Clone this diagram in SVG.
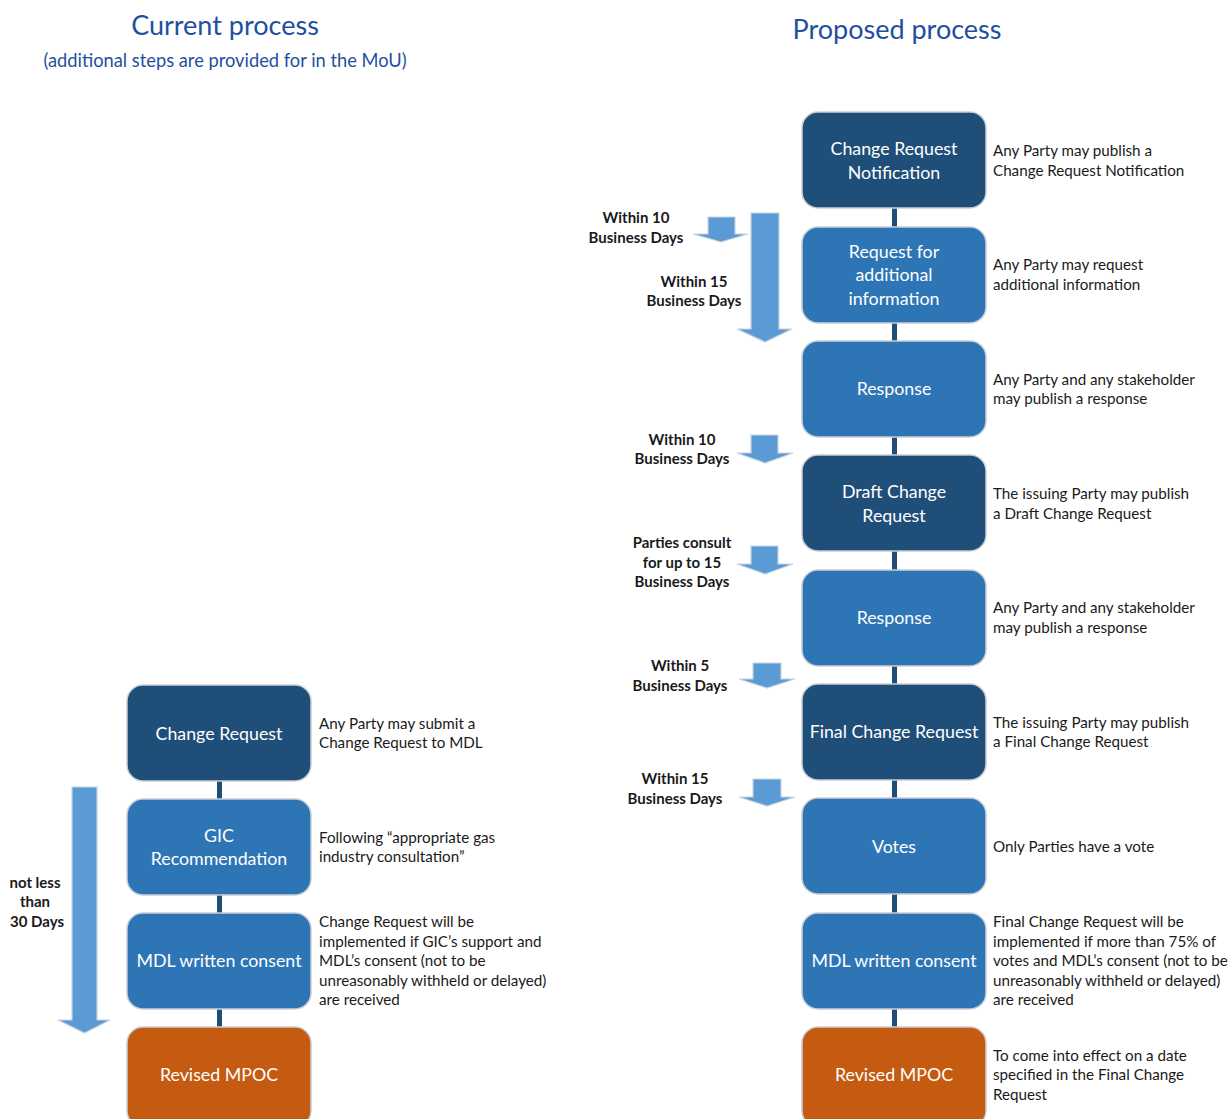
<svg xmlns="http://www.w3.org/2000/svg" width="1231" height="1119" viewBox="0 0 1231 1119">
<style>
.title{font-family:Lato,"Liberation Sans",sans-serif;font-size:27px;fill:#1F4FA0;text-anchor:middle}
.sub{font-family:Lato,"Liberation Sans",sans-serif;font-size:18.3px;fill:#1F4FA0;text-anchor:middle}
.box{stroke:#C9CED6;stroke-width:1.5}
.dark{fill:#1F4E79}
.mid{fill:#2E75B6}
.orange{fill:#C55A11}
.bt{font-family:Lato,"Liberation Sans",sans-serif;font-size:17.8px;fill:#FFFFFF;text-anchor:middle}
.st{font-family:Lato,"Liberation Sans",sans-serif;font-size:15.2px;fill:#1a1a1a}
.lb{font-family:Lato,"Liberation Sans",sans-serif;font-size:15px;font-weight:bold;fill:#1a1a1a;text-anchor:middle}
.conn{fill:#1F4E79}
.arr{fill:#5B9BD5;stroke:#C9D3DF;stroke-width:1.2}
</style>

<text class="title" x="225" y="35">Current process</text>
<text class="sub" x="225" y="67">(additional steps are provided for in the MoU)</text>
<text class="title" x="897" y="39">Proposed process</text>

<g id="connectors">
  <rect class="conn" x="892" y="208" width="5" height="19"/>
  <rect class="conn" x="892" y="323" width="5" height="18"/>
  <rect class="conn" x="892" y="437" width="5" height="18"/>
  <rect class="conn" x="892" y="551" width="5" height="19"/>
  <rect class="conn" x="892" y="666" width="5" height="18"/>
  <rect class="conn" x="892" y="780" width="5" height="18"/>
  <rect class="conn" x="892" y="894" width="5" height="19"/>
  <rect class="conn" x="892" y="1009" width="5" height="18"/>
  <rect class="conn" x="217" y="781" width="5" height="18"/>
  <rect class="conn" x="217" y="895" width="5" height="18"/>
  <rect class="conn" x="217" y="1009" width="5" height="18"/>
</g>

<g id="arrows">
  <polygon class="arr" points="72,787 97,787 97,1020 110,1020 84.5,1033 58,1020 72,1020"/>
  <polygon class="arr" points="751,213 779,213 779,329 792,329 765,342 737,329 751,329"/>
  <polygon class="arr" points="708,217 735,217 735,234 748,234 721,242 693,234 708,234"/>
  <polygon class="arr" points="751,435 778,435 778,453 793,453 765,463 737,453 751,453"/>
  <polygon class="arr" points="751,546 778,546 778,564 793,564 765,574 737,564 751,564"/>
  <polygon class="arr" points="753,663 781,663 781,679 795,679 767,688 739,679 753,679"/>
  <polygon class="arr" points="753,779 781,779 781,797 795,797 767,806 739,797 753,797"/>
</g>

<g id="left-labels">
  <text class="lb" x="35" y="888">not less</text>
  <text class="lb" x="35" y="907">than</text>
  <text class="lb" x="37" y="927">30 Days</text>
</g>
<g id="right-labels">
  <text class="lb" x="636" y="223">Within 10</text>
  <text class="lb" x="636" y="243">Business Days</text>
  <text class="lb" x="694" y="287">Within 15</text>
  <text class="lb" x="694" y="306">Business Days</text>
  <text class="lb" x="682" y="445">Within 10</text>
  <text class="lb" x="682" y="464">Business Days</text>
  <text class="lb" x="682" y="548">Parties consult</text>
  <text class="lb" x="682" y="568">for up to 15</text>
  <text class="lb" x="682" y="587">Business Days</text>
  <text class="lb" x="680" y="671">Within 5</text>
  <text class="lb" x="680" y="691">Business Days</text>
  <text class="lb" x="675" y="784">Within 15</text>
  <text class="lb" x="675" y="804">Business Days</text>
</g>

<g id="l-change-request">
  <rect class="box dark" x="127" y="685" width="184" height="96" rx="16"/>
  <text class="bt" x="219" y="740">Change Request</text>
  <text class="st" x="319" y="729">Any Party may submit a</text>
  <text class="st" x="319" y="748">Change Request to MDL</text>
</g>
<g id="l-gic">
  <rect class="box mid" x="127" y="799" width="184" height="96" rx="16"/>
  <text class="bt" x="219" y="842">GIC</text>
  <text class="bt" x="219" y="865">Recommendation</text>
  <text class="st" x="319" y="843">Following “appropriate gas</text>
  <text class="st" x="319" y="862">industry consultation”</text>
</g>
<g id="l-mdl">
  <rect class="box mid" x="127" y="913" width="184" height="96" rx="16"/>
  <text class="bt" x="219" y="967">MDL written consent</text>
  <text class="st" x="319" y="927">Change Request will be</text>
  <text class="st" x="319" y="947">implemented if GIC’s support and</text>
  <text class="st" x="319" y="966">MDL’s consent (not to be</text>
  <text class="st" x="319" y="986">unreasonably withheld or delayed)</text>
  <text class="st" x="319" y="1005">are received</text>
</g>
<g id="l-mpoc">
  <rect class="box orange" x="127" y="1027" width="184" height="100" rx="16"/>
  <text class="bt" x="219" y="1081">Revised MPOC</text>
</g>

<g id="r-crn">
  <rect class="box dark" x="802" y="112" width="184" height="96" rx="16"/>
  <text class="bt" x="894" y="155">Change Request</text>
  <text class="bt" x="894" y="179">Notification</text>
  <text class="st" x="993" y="156">Any Party may publish a</text>
  <text class="st" x="993" y="176">Change Request Notification</text>
</g>
<g id="r-rfi">
  <rect class="box mid" x="802" y="227" width="184" height="96" rx="16"/>
  <text class="bt" x="894" y="258">Request for</text>
  <text class="bt" x="894" y="281">additional</text>
  <text class="bt" x="894" y="305">information</text>
  <text class="st" x="993" y="270">Any Party may request</text>
  <text class="st" x="993" y="290">additional information</text>
</g>
<g id="r-response1">
  <rect class="box mid" x="802" y="341" width="184" height="96" rx="16"/>
  <text class="bt" x="894" y="395">Response</text>
  <text class="st" x="993" y="385">Any Party and any stakeholder</text>
  <text class="st" x="993" y="404">may publish a response</text>
</g>
<g id="r-draft">
  <rect class="box dark" x="802" y="455" width="184" height="96" rx="16"/>
  <text class="bt" x="894" y="498">Draft Change</text>
  <text class="bt" x="894" y="522">Request</text>
  <text class="st" x="993" y="499">The issuing Party may publish</text>
  <text class="st" x="993" y="519">a Draft Change Request</text>
</g>
<g id="r-response2">
  <rect class="box mid" x="802" y="570" width="184" height="96" rx="16"/>
  <text class="bt" x="894" y="624">Response</text>
  <text class="st" x="993" y="613">Any Party and any stakeholder</text>
  <text class="st" x="993" y="633">may publish a response</text>
</g>
<g id="r-final">
  <rect class="box dark" x="802" y="684" width="184" height="96" rx="16"/>
  <text class="bt" x="894" y="738">Final Change Request</text>
  <text class="st" x="993" y="728">The issuing Party may publish</text>
  <text class="st" x="993" y="747">a Final Change Request</text>
</g>
<g id="r-votes">
  <rect class="box mid" x="802" y="798" width="184" height="96" rx="16"/>
  <text class="bt" x="894" y="853">Votes</text>
  <text class="st" x="993" y="852">Only Parties have a vote</text>
</g>
<g id="r-mdl">
  <rect class="box mid" x="802" y="913" width="184" height="96" rx="16"/>
  <text class="bt" x="894" y="967">MDL written consent</text>
  <text class="st" x="993" y="927">Final Change Request will be</text>
  <text class="st" x="993" y="947">implemented if more than 75% of</text>
  <text class="st" x="993" y="966">votes and MDL’s consent (not to be</text>
  <text class="st" x="993" y="986">unreasonably withheld or delayed)</text>
  <text class="st" x="993" y="1005">are received</text>
</g>
<g id="r-mpoc">
  <rect class="box orange" x="802" y="1027" width="184" height="100" rx="16"/>
  <text class="bt" x="894" y="1081">Revised MPOC</text>
  <text class="st" x="993" y="1061">To come into effect on a date</text>
  <text class="st" x="993" y="1080">specified in the Final Change</text>
  <text class="st" x="993" y="1100">Request</text>
</g>
</svg>
